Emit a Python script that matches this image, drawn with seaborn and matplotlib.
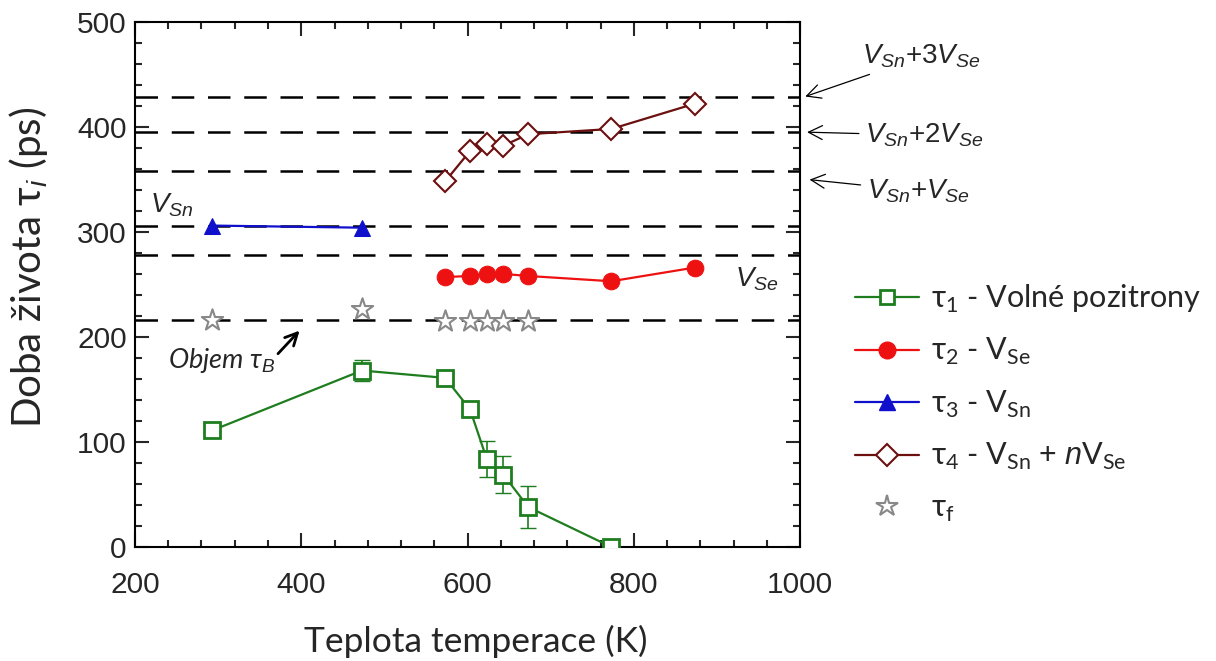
import matplotlib
matplotlib.use("Agg")
import matplotlib.pyplot as plt
import seaborn as sns
import pandas as pd
from matplotlib.ticker import MultipleLocator
from matplotlib.lines import Line2D

# ---- data ----
t1_T = [293, 473, 573, 603, 623, 643, 673, 773]
t1_v = [111, 168, 161, 131, 84, 69, 38, 0]
t1_err = [6, 10, 6, 6, 17, 18, 20, 0]

t2_T = [573, 603, 623, 643, 673, 773, 873]
t2_v = [257, 258, 260, 260, 258, 253, 266]

t3_T = [293, 473]
t3_v = [306, 304]

t4_T = [573, 603, 623, 643, 673, 773, 873]
t4_v = [348, 377, 384, 382, 393, 398, 422]

tf_T = [293, 473, 573, 603, 623, 643, 673]
tf_v = [216, 227, 215, 215, 215, 215, 215]

ref_levels = [428, 395, 358, 306, 278, 216]

legend_labels = ['τ$_1$ - Volné pozitrony', 'τ$_2$ - V$_{\\mathrm{Se}}$', 'τ$_3$ - V$_{\\mathrm{Sn}}$',
                 'τ$_4$ - V$_{\\mathrm{Sn}}$ + $n$V$_{\\mathrm{Se}}$', 'τ$_{\\mathrm{f}}$']

sns.set_theme(style="ticks")
plt.rcParams['font.family'] = ['Liberation Sans', 'DejaVu Sans']
plt.rcParams['mathtext.fontset'] = 'custom'
plt.rcParams['mathtext.rm'] = 'Lato'
plt.rcParams['mathtext.it'] = 'Liberation Sans:italic'

CAL = ['Lato', 'DejaVu Sans']

fig = plt.figure(figsize=(12.16, 6.61), dpi=100)
ax = fig.add_axes([0.111, 0.1725, 0.547, 0.7945])

for lv in ref_levels:
    ax.axhline(lv, color='black', ls=(0, (9, 5.5)), lw=1.8, zorder=1)

green = '#1e7d1e'
red = '#ee1111'
blue = '#1010cc'
brown = '#6b0f0f'

d1 = pd.DataFrame({'T': t1_T, 'v': t1_v})
d2 = pd.DataFrame({'T': t2_T, 'v': t2_v})
d3 = pd.DataFrame({'T': t3_T, 'v': t3_v})
d4 = pd.DataFrame({'T': t4_T, 'v': t4_v})
df_ = pd.DataFrame({'T': tf_T, 'v': tf_v})

ax.errorbar(t1_T, t1_v, yerr=t1_err, fmt='none', ecolor=green, elinewidth=1.2, capsize=6, zorder=2)
sns.lineplot(data=d1, x='T', y='v', ax=ax, color=green, lw=1.6, marker='s', markersize=11,
             markerfacecolor='white', markeredgecolor=green, markeredgewidth=2, zorder=3)
sns.lineplot(data=d2, x='T', y='v', ax=ax, color=red, lw=1.6, marker='o', markersize=12,
             markerfacecolor=red, markeredgecolor=red, zorder=3)
sns.lineplot(data=d3, x='T', y='v', ax=ax, color=blue, lw=1.6, marker='^', markersize=11,
             markerfacecolor=blue, markeredgecolor=blue, zorder=3)
sns.lineplot(data=d4, x='T', y='v', ax=ax, color=brown, lw=1.6, marker='D', markersize=11.5,
             markerfacecolor='white', markeredgecolor=brown, markeredgewidth=1.5, zorder=3)
sns.scatterplot(data=df_, x='T', y='v', ax=ax, marker='*', s=260, facecolor='white',
                edgecolor='#888888', linewidth=1.5, zorder=3)

ax.set_xlim(200, 1000)
ax.set_ylim(0, 500)
ax.xaxis.set_major_locator(MultipleLocator(200))
ax.xaxis.set_minor_locator(MultipleLocator(40))
ax.yaxis.set_major_locator(MultipleLocator(100))
ax.yaxis.set_minor_locator(MultipleLocator(20))
ax.tick_params(which='both', direction='in', top=True, right=True, width=1.5)
ax.tick_params(which='major', length=10, labelsize=21.5)
ax.tick_params(axis='x', which='major', pad=17)
ax.tick_params(axis='y', which='major', pad=6)
ax.tick_params(which='minor', length=5)
for s in ax.spines.values():
    s.set_linewidth(1.5)
    s.set_color('black')

ax.set_xlabel('Teplota temperace (K)', fontsize=25.5, family=CAL)
ax.set_ylabel('Doba života τ$_{i}$ (ps)', fontsize=29, family=CAL)
ax.xaxis.set_label_coords(0.513, -0.148)
ax.yaxis.set_label_coords(-0.128, 0.533)

# annotations
arw = dict(arrowstyle='->', color='black', lw=0.9, mutation_scale=25)
ax.annotate(r'$V_{Sn}$+3$V_{Se}$', xy=(1003, 428), xytext=(1075, 467), fontsize=20,
            arrowprops=arw, annotation_clip=False, va='center', ha='left')
ax.annotate(r'$V_{Sn}$+2$V_{Se}$', xy=(1005, 395), xytext=(1078, 392), fontsize=20,
            arrowprops=arw, annotation_clip=False, va='center', ha='left')
ax.annotate(r'$V_{Sn}$+$V_{Se}$', xy=(1008, 350), xytext=(1080, 339), fontsize=20,
            arrowprops=arw, annotation_clip=False, va='center', ha='left')
ax.text(218, 312, r'$V_{Sn}$', fontsize=20, va='bottom', ha='left')
ax.text(922, 255, r'$V_{Se}$', fontsize=20, va='center', ha='left')
ax.text(240, 178, 'Objem τ$_{B}$', fontsize=19.5, style='italic', family=CAL, va='center', ha='left')
ax.annotate('', xy=(398, 206), xytext=(372, 184),
            arrowprops=dict(arrowstyle='->', color='black', lw=2, mutation_scale=22,
                            shrinkA=0, shrinkB=0))

# legend
handles = [
    Line2D([], [], color=green, lw=1.6, marker='s', markersize=9.5, markerfacecolor='white',
           markeredgecolor=green, markeredgewidth=2),
    Line2D([], [], color=red, lw=1.6, marker='o', markersize=12, markerfacecolor=red,
           markeredgecolor=red),
    Line2D([], [], color=blue, lw=1.6, marker='^', markersize=11, markerfacecolor=blue,
           markeredgecolor=blue),
    Line2D([], [], color=brown, lw=1.6, marker='D', markersize=11, markerfacecolor='white',
           markeredgecolor=brown, markeredgewidth=1.5),
    Line2D([], [], ls='none', marker='*', markersize=16, markerfacecolor='white',
           markeredgecolor='#888888', markeredgewidth=1.5),
]
fig.legend(handles, legend_labels, loc='upper left', bbox_to_anchor=(0.703, 0.572), frameon=False,
           handlelength=2.1, handletextpad=0.4, labelspacing=0.7, borderpad=0, borderaxespad=0,
           prop={'family': CAL, 'size': 22})

fig.savefig('out.png', dpi=100)
